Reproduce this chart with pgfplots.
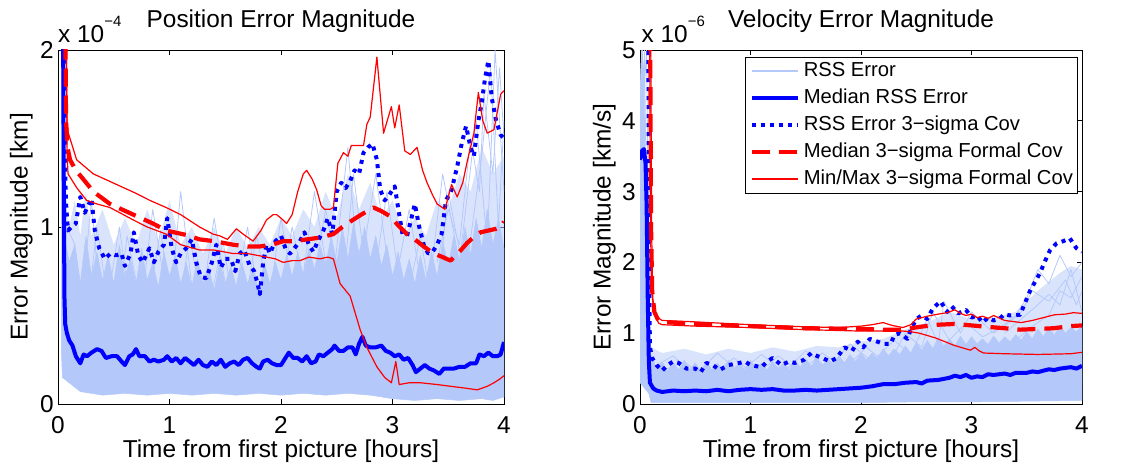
\documentclass[border=0pt]{standalone}
\usepackage{fontspec}
\setmainfont{Liberation Sans}
\usepackage{pgfplots}
\pgfplotsset{compat=1.18}
\definecolor{lb}{RGB}{180,200,250}
\definecolor{rd}{RGB}{255,0,0}
\newcommand{\fs}{\fontsize{24.5}{28}\selectfont}
\newcommand{\fl}{\fontsize{20.3}{24}\selectfont}
\pgfplotsset{
 myax/.style={scale only axis, height=354bp, xmin=0, xmax=4, ymin=0,
   xtick={0,1,2,3,4}, tick align=inside, major tick length=5bp,
   axis line style={line width=0.9bp}, every tick/.append style={black, line width=0.9bp},
   tick label style={font=\fs}, /pgf/number format/assume math mode=true,
   xticklabel style={anchor=base, yshift=-29bp, inner sep=0pt},
   yticklabel style={anchor=east, xshift=-4bp, inner sep=0pt},
   no markers, every axis plot/.append style={line join=round}},
 lite/.style={lb, line width=0.8bp},
 med/.style={blue, line width=4bp},
 dots/.style={blue, line width=4bp, dash pattern=on 4bp off 5bp},
 dsh/.style={red, line width=4.2bp, dash pattern=on 18bp off 9bp},
 mm/.style={red, line width=1.2bp},
 semi/.style={fill=lb, fill opacity=0.5, draw=none, forget plot},
}
\begin{document}
\begin{tikzpicture}
\useasboundingbox (-58bp,-68bp) rectangle (1076bp,404bp);
% ---------------- LEFT -----------------
\begin{axis}[myax, at={(0bp,0bp)}, anchor=south west, width=446bp, ymax=2, ytick={0,1,2}]
\addplot[semi] coordinates {(0.04,1.2)(0.1,1.0)(0.15,1.15)(0.2,0.95)(0.25,1.2)(0.3,0.95)(0.4,1.1)(0.5,0.9)(0.6,1.05)(0.7,0.9)(0.8,1.1)(0.9,0.92)(1.0,1.15)(1.1,0.9)(1.2,1.0)(1.3,0.85)(1.4,1.0)(1.5,0.85)(1.6,1.0)(1.7,0.88)(1.8,1.0)(1.9,0.9)(2.0,1.05)(2.1,0.95)(2.2,1.1)(2.3,1.0)(2.4,1.2)(2.5,1.05)(2.6,1.3)(2.7,1.1)(2.8,1.25)(2.9,1.05)(3.0,1.15)(3.1,0.95)(3.2,1.05)(3.3,0.95)(3.4,1.15)(3.5,1.1)(3.6,1.3)(3.7,1.2)(3.8,1.45)(3.9,1.3)(4.0,1.4)(4.0,0.3)(0.04,0.3)} -- cycle;
\addplot[fill=lb, draw=lb, line width=0.5bp, forget plot] coordinates {
(0.03,0.3)(0.035,2.1)(0.05,2.1)(0.055,1.2)(0.07,0.9)(0.10,0.8)(0.15,0.9)(0.20,0.68)(0.25,0.95)(0.30,0.72)(0.35,0.86)(0.40,0.7)(0.45,0.84)(0.50,0.68)(0.55,0.9)(0.60,0.72)(0.65,0.82)(0.70,0.68)(0.75,0.88)(0.80,0.7)(0.85,0.8)(0.90,0.66)(0.95,0.86)(1.00,0.72)(1.05,0.84)(1.10,0.68)(1.15,0.8)(1.20,0.66)(1.25,0.82)(1.30,0.68)(1.35,0.78)(1.40,0.64)(1.45,0.8)(1.50,0.68)(1.55,0.78)(1.60,0.66)(1.65,0.8)(1.70,0.68)(1.75,0.76)(1.80,0.64)(1.85,0.8)(1.90,0.68)(1.95,0.8)(2.00,0.7)(2.05,0.84)(2.10,0.72)(2.15,0.86)(2.20,0.73)(2.25,0.88)(2.30,0.76)(2.35,0.9)(2.40,0.78)(2.45,0.95)(2.50,0.8)(2.55,1.0)(2.60,0.82)(2.65,1.02)(2.70,0.85)(2.75,1.0)(2.80,0.82)(2.85,0.95)(2.90,0.78)(2.95,0.9)(3.00,0.72)(3.05,0.86)(3.10,0.7)(3.15,0.82)(3.20,0.68)(3.25,0.84)(3.30,0.7)(3.35,0.86)(3.40,0.72)(3.45,0.92)(3.50,0.78)(3.55,0.95)(3.60,0.8)(3.65,1.0)(3.70,0.84)(3.75,1.05)(3.80,0.88)(3.85,1.1)(3.90,0.9)(3.95,1.05)(4.00,0.88)
(4.0,0.04)(3.9,0.02)(3.8,0.03)(3.6,0.02)(3.4,0.03)(3.2,0.02)(3.0,0.03)(2.8,0.05)(2.6,0.06)(2.4,0.05)(2.2,0.06)(2.0,0.05)(1.8,0.06)(1.6,0.05)(1.4,0.06)(1.2,0.05)(1.0,0.06)(0.8,0.05)(0.6,0.06)(0.4,0.05)(0.2,0.07)(0.04,0.15)
} -- cycle;
\addplot[lite] coordinates {(0.03,2.0)(0.06,0.9)(0.2,0.5)(0.3,1.15)(0.4,0.4)(0.55,1.0)(0.7,0.3)(0.85,1.1)(1.0,0.5)(1.1,1.2)(1.25,0.4)(1.4,1.05)(1.55,0.5)(1.7,1.0)(1.85,0.4)(2.0,1.05)(2.15,0.5)(2.3,1.2)(2.45,0.6)(2.6,1.45)(2.7,0.7)(2.85,1.3)(3.0,0.6)(3.15,1.1)(3.3,0.5)(3.45,1.3)(3.6,0.8)(3.75,1.6)(3.85,0.9)(3.92,2.0)(4.0,1.2)};
\addplot[lite] coordinates {(0.04,1.8)(0.08,1.0)(0.15,0.9)(0.25,0.45)(0.35,1.0)(0.5,0.35)(0.62,0.95)(0.78,0.45)(0.92,0.98)(1.05,0.4)(1.18,0.95)(1.32,0.45)(1.48,0.92)(1.62,0.35)(1.78,0.95)(1.95,0.45)(2.1,1.0)(2.25,0.55)(2.4,1.1)(2.55,0.6)(2.65,1.3)(2.8,0.55)(2.95,1.2)(3.1,0.5)(3.25,0.95)(3.38,0.45)(3.5,1.2)(3.65,0.7)(3.8,1.4)(3.88,1.9)(3.95,1.0)(4.0,1.6)};
\addplot[lite] coordinates {(3.4,0.8)(3.5,1.1)(3.6,0.9)(3.7,1.5)(3.78,1.2)(3.82,1.75)(3.9,1.3)(3.96,1.9)(4.0,1.5)};
\addplot[med] coordinates {(0.045,2.2)(0.052,1.2)(0.058,0.6)(0.065,0.45)(0.08,0.4)(0.1,0.36)(0.13,0.33)(0.16,0.27)(0.2,0.23)(0.23,0.28)(0.26,0.27)(0.3,0.29)(0.35,0.31)(0.39,0.30)(0.43,0.26)(0.48,0.27)(0.53,0.27)(0.57,0.24)(0.6,0.22)(0.64,0.27)(0.67,0.28)(0.7,0.31)(0.73,0.27)(0.78,0.27)(0.82,0.24)(0.86,0.25)(0.9,0.24)(0.95,0.25)(0.98,0.27)(1.02,0.24)(1.06,0.26)(1.1,0.23)(1.14,0.26)(1.18,0.24)(1.22,0.22)(1.26,0.25)(1.3,0.22)(1.34,0.21)(1.38,0.24)(1.42,0.22)(1.46,0.25)(1.5,0.21)(1.54,0.23)(1.58,0.24)(1.62,0.22)(1.66,0.25)(1.7,0.26)(1.74,0.23)(1.78,0.21)(1.81,0.2)(1.84,0.24)(1.88,0.25)(1.92,0.23)(1.96,0.22)(2.0,0.22)(2.04,0.26)(2.07,0.29)(2.11,0.26)(2.15,0.26)(2.19,0.24)(2.23,0.27)(2.27,0.23)(2.31,0.24)(2.34,0.28)(2.38,0.27)(2.42,0.29)(2.46,0.31)(2.48,0.33)(2.52,0.3)(2.56,0.3)(2.6,0.32)(2.64,0.32)(2.67,0.28)(2.7,0.34)(2.73,0.38)(2.76,0.33)(2.8,0.32)(2.85,0.32)(2.9,0.33)(2.94,0.3)(2.98,0.29)(3.02,0.27)(3.06,0.28)(3.1,0.25)(3.14,0.26)(3.18,0.22)(3.21,0.18)(3.25,0.2)(3.29,0.22)(3.33,0.2)(3.37,0.19)(3.42,0.17)(3.46,0.2)(3.5,0.2)(3.55,0.2)(3.6,0.21)(3.65,0.21)(3.7,0.23)(3.75,0.23)(3.78,0.28)(3.82,0.27)(3.86,0.29)(3.9,0.27)(3.94,0.27)(3.97,0.28)(4.0,0.35)};
\addplot[dots] coordinates {(0.062,2.2)(0.066,1.25)(0.075,1.1)(0.09,0.98)(0.12,1.0)(0.16,1.02)(0.2,1.17)(0.24,1.08)(0.3,1.16)(0.33,0.98)(0.37,0.88)(0.42,0.82)(0.47,0.85)(0.52,0.84)(0.57,0.85)(0.6,0.78)(0.65,0.85)(0.68,0.97)(0.72,0.84)(0.76,0.8)(0.82,0.88)(0.86,0.8)(0.9,0.86)(0.95,0.9)(0.98,1.05)(1.02,0.88)(1.06,0.8)(1.1,0.85)(1.15,0.88)(1.2,0.93)(1.24,0.8)(1.28,0.72)(1.33,0.71)(1.38,0.8)(1.42,0.9)(1.46,0.77)(1.5,0.82)(1.55,0.82)(1.59,0.75)(1.63,0.85)(1.67,0.87)(1.72,0.78)(1.76,0.75)(1.79,0.68)(1.81,0.62)(1.84,0.8)(1.87,0.9)(1.9,0.85)(1.95,0.92)(2.0,0.95)(2.04,0.88)(2.08,0.85)(2.12,0.88)(2.17,0.92)(2.21,0.97)(2.25,0.9)(2.29,0.86)(2.33,0.92)(2.38,0.98)(2.42,1.05)(2.46,0.96)(2.5,1.2)(2.54,1.25)(2.58,1.22)(2.62,1.26)(2.66,1.32)(2.7,1.3)(2.74,1.42)(2.78,1.45)(2.82,1.47)(2.86,1.38)(2.89,1.21)(2.93,1.15)(2.97,1.18)(3.02,1.23)(3.05,1.11)(3.09,0.96)(3.13,0.95)(3.17,1.05)(3.2,1.13)(3.24,1.0)(3.28,0.9)(3.32,0.85)(3.36,0.86)(3.4,0.9)(3.44,0.96)(3.48,1.15)(3.53,1.21)(3.58,1.34)(3.62,1.47)(3.66,1.57)(3.7,1.45)(3.73,1.4)(3.77,1.6)(3.8,1.7)(3.83,1.84)(3.86,1.94)(3.89,1.73)(3.93,1.6)(3.97,1.52)(4.0,1.5)};
\addplot[dsh] coordinates {(0.065,2.2)(0.072,1.6)(0.085,1.45)(0.108,1.38)(0.16,1.32)(0.227,1.27)(0.317,1.2)(0.466,1.13)(0.675,1.07)(0.85,1.02)(0.97,0.98)(1.15,0.955)(1.27,0.93)(1.4,0.92)(1.57,0.9)(1.7,0.89)(1.81,0.89)(1.92,0.9)(2.02,0.92)(2.12,0.92)(2.23,0.93)(2.35,0.94)(2.47,0.96)(2.55,1.0)(2.62,1.03)(2.72,1.07)(2.83,1.11)(2.9,1.09)(2.98,1.06)(3.05,1.01)(3.13,0.96)(3.2,0.93)(3.28,0.89)(3.37,0.85)(3.45,0.83)(3.52,0.81)(3.6,0.86)(3.67,0.91)(3.74,0.95)(3.79,0.97)(3.86,0.98)(3.93,0.99)(3.97,1.0)(4.0,1.03)};
\addplot[mm] coordinates {(0.07,2.2)(0.08,1.6)(0.093,1.53)(0.167,1.38)(0.317,1.3)(0.526,1.24)(0.7,1.19)(0.825,1.15)(0.97,1.11)(1.1,1.07)(1.27,1.0)(1.39,0.96)(1.45,0.95)(1.52,0.93)(1.6,0.99)(1.66,0.96)(1.75,0.92)(1.82,0.98)(1.87,1.04)(1.93,1.07)(1.96,1.07)(2.0,1.05)(2.05,1.02)(2.1,1.07)(2.15,1.2)(2.2,1.3)(2.23,1.32)(2.28,1.27)(2.32,1.21)(2.36,1.12)(2.39,1.1)(2.44,1.1)(2.47,1.11)(2.51,1.36)(2.56,1.42)(2.6,1.4)(2.63,1.46)(2.68,1.46)(2.74,1.46)(2.77,1.58)(2.8,1.62)(2.86,1.96)(2.92,1.53)(2.99,1.68)(3.02,1.56)(3.06,1.69)(3.11,1.43)(3.16,1.41)(3.22,1.45)(3.27,1.32)(3.31,1.25)(3.36,1.18)(3.4,1.13)(3.47,1.1)(3.53,1.24)(3.58,1.17)(3.63,1.25)(3.67,1.37)(3.73,1.53)(3.77,1.76)(3.81,1.6)(3.85,1.53)(3.91,1.55)(3.97,1.75)(4.0,1.77)};
\addplot[mm] coordinates {(0.075,2.2)(0.082,1.4)(0.09,1.3)(0.17,1.22)(0.257,1.15)(0.35,1.13)(0.466,1.11)(0.675,1.04)(0.8,1.0)(0.97,0.96)(1.1,0.9)(1.27,0.87)(1.4,0.87)(1.57,0.85)(1.7,0.85)(1.87,0.83)(1.95,0.82)(2.02,0.8)(2.1,0.81)(2.17,0.81)(2.25,0.83)(2.35,0.82)(2.42,0.83)(2.47,0.82)(2.53,0.68)(2.62,0.61)(2.71,0.42)(2.77,0.32)(2.86,0.21)(2.93,0.15)(2.99,0.12)(3.03,0.24)(3.06,0.11)(3.15,0.12)(3.25,0.12)(3.4,0.11)(3.52,0.1)(3.65,0.09)(3.76,0.08)(3.85,0.1)(3.91,0.12)(3.96,0.14)(4.0,0.16)};
\end{axis}
\node[font=\fs, anchor=base] at (223bp,376bp) {Position Error Magnitude};
\node[font=\fs, anchor=base] at (223bp,-53bp) {Time from first picture [hours]};
\node[font=\fs, anchor=base, rotate=90] at (-30.5bp,177bp) {Error Magnitude [km]};
\node[font=\fs, anchor=base west, inner sep=0pt] at (0bp,361bp) {x 10\raisebox{16bp}{\fontsize{15}{15}\selectfont −4}};
% ---------------- RIGHT -----------------
\begin{axis}[myax, at={(582bp,0bp)}, anchor=south west, width=442bp, ymax=5, ytick={0,1,2,3,4,5},
  legend cell align=left,
  legend image code/.code={\draw[#1] (0bp,0bp) -- (46bp,0bp);},
  legend style={at={(0.989,0.98)}, anchor=north east, font=\fl, draw=black, fill=white,
    inner xsep=4bp, inner ysep=4bp, column sep=4bp, row sep=7.5bp,
    nodes={inner sep=0pt, text height=15bp, text depth=4.5bp}}]
\addplot[semi] coordinates {(0.08,1.0)(0.1,0.8)(0.2,0.72)(0.4,0.78)(0.6,0.7)(0.8,0.78)(1.0,0.72)(1.2,0.8)(1.4,0.74)(1.6,0.82)(1.8,0.8)(2.0,0.88)(2.2,0.92)(2.4,1.05)(2.6,1.15)(2.8,1.3)(3.0,1.2)(3.2,1.22)(3.4,1.3)(3.6,1.6)(3.8,1.85)(3.9,1.95)(4.0,1.9)(4.0,0.3)(0.08,0.3)} -- cycle;
\addplot[fill=lb, draw=lb, line width=0.5bp, forget plot] coordinates {
(0.0,4.5)(0.02,5.2)(0.04,4.2)(0.06,2.2)(0.08,1.0)(0.1,0.7)(0.15,0.5)(0.2,0.6)(0.25,0.46)(0.3,0.58)(0.35,0.48)(0.4,0.62)(0.45,0.48)(0.5,0.58)(0.55,0.46)(0.6,0.6)(0.65,0.48)(0.7,0.58)(0.75,0.48)(0.8,0.62)(0.85,0.5)(0.9,0.58)(0.95,0.48)(1.0,0.62)(1.05,0.5)(1.1,0.58)(1.15,0.48)(1.2,0.6)(1.25,0.5)(1.3,0.58)(1.35,0.48)(1.4,0.62)(1.45,0.52)(1.5,0.64)(1.55,0.53)(1.6,0.66)(1.65,0.54)(1.7,0.64)(1.75,0.56)(1.8,0.68)(1.85,0.58)(1.9,0.7)(1.95,0.6)(2.0,0.72)(2.05,0.62)(2.1,0.72)(2.15,0.64)(2.2,0.78)(2.25,0.68)(2.3,0.78)(2.35,0.7)(2.4,0.82)(2.45,0.72)(2.5,0.86)(2.55,0.76)(2.6,0.9)(2.65,0.78)(2.7,0.94)(2.75,0.82)(2.8,0.92)(2.85,0.82)(2.9,0.96)(2.95,0.84)(3.0,0.95)(3.05,0.85)(3.1,0.92)(3.15,0.84)(3.2,0.96)(3.25,0.86)(3.3,0.95)(3.35,0.88)(3.4,0.98)(3.45,0.9)(3.5,1.02)(3.55,0.92)(3.6,1.06)(3.65,0.95)(3.7,1.08)(3.75,0.97)(3.8,1.1)(3.85,1.0)(3.9,1.08)(3.95,1.02)(4.0,1.1)
(4.0,0.05)(3.5,0.04)(3.0,0.03)(2.5,0.03)(2.0,0.02)(1.5,0.02)(1.0,0.02)(0.5,0.02)(0.1,0.02)(0.08,0.15)(0.0,0.3)
} -- cycle;
\addplot[lite, forget plot] coordinates {(0.1,0.5)(0.3,0.68)(0.5,0.4)(0.7,0.72)(0.9,0.45)(1.1,0.7)(1.3,0.45)(1.5,0.75)(1.7,0.5)(1.9,0.85)(2.1,0.6)(2.3,0.9)(2.45,0.7)(2.6,1.2)(2.7,0.85)(2.75,1.45)(2.9,1.0)(3.0,1.3)(3.2,1.0)(3.4,1.25)(3.5,1.5)(3.6,1.9)(3.7,1.7)(3.8,2.1)(3.9,1.8)(4.0,2.0)};
\addplot[lite, forget plot] coordinates {(0.1,0.4)(0.4,0.6)(0.6,0.35)(0.85,0.65)(1.05,0.4)(1.25,0.68)(1.45,0.45)(1.65,0.72)(1.85,0.5)(2.05,0.8)(2.25,0.55)(2.4,1.0)(2.55,0.8)(2.65,1.3)(2.8,0.9)(2.95,1.15)(3.1,0.95)(3.3,1.1)(3.45,1.3)(3.55,1.6)(3.7,1.45)(3.85,1.75)(3.95,1.4)(4.0,1.6)};
\addplot[lite, forget plot] coordinates {(3.3,1.0)(3.45,1.2)(3.6,1.4)(3.7,1.55)(3.8,1.4)(3.9,1.9)(4.0,1.3)};
\addplot[lite, forget plot] coordinates {(3.4,0.9)(3.55,1.1)(3.7,1.25)(3.8,1.6)(3.9,1.5)(4.0,1.8)};
\addplot[lite, forget plot] coordinates {(0,1.3)(0.04,5)(0.08,0.4)};
\addplot[lite, forget plot] coordinates {(0,2.0)(0.03,4.8)(0.07,0.5)};
\addplot[lite, forget plot] coordinates {(0,3.5)(0.06,5)(0.09,0.4)};
\addplot[med, forget plot] coordinates {(0,3.45)(0.02,3.58)(0.035,3.6)(0.05,3.4)(0.06,2.8)(0.07,1.5)(0.08,0.6)(0.09,0.3)(0.12,0.22)(0.15,0.19)(0.2,0.17)(0.3,0.19)(0.4,0.18)(0.5,0.19)(0.6,0.18)(0.7,0.2)(0.8,0.18)(0.9,0.2)(1.0,0.21)(1.1,0.2)(1.2,0.21)(1.3,0.19)(1.4,0.19)(1.5,0.2)(1.6,0.19)(1.7,0.2)(1.8,0.21)(1.9,0.22)(2.0,0.23)(2.1,0.25)(2.2,0.28)(2.3,0.28)(2.4,0.3)(2.5,0.31)(2.55,0.29)(2.6,0.33)(2.7,0.34)(2.8,0.37)(2.85,0.4)(2.9,0.38)(2.95,0.41)(3.0,0.37)(3.05,0.39)(3.1,0.38)(3.15,0.42)(3.2,0.41)(3.3,0.43)(3.35,0.41)(3.4,0.44)(3.5,0.44)(3.55,0.46)(3.6,0.45)(3.7,0.49)(3.75,0.48)(3.8,0.5)(3.9,0.52)(3.95,0.5)(4.0,0.54)};
\addplot[dots, forget plot] coordinates {(0.075,6)(0.08,2.0)(0.09,0.8)(0.11,0.65)(0.15,0.55)(0.2,0.47)(0.25,0.55)(0.3,0.6)(0.35,0.58)(0.42,0.5)(0.5,0.5)(0.55,0.45)(0.6,0.58)(0.66,0.55)(0.72,0.48)(0.8,0.55)(0.9,0.58)(0.95,0.6)(1.0,0.55)(1.1,0.52)(1.15,0.6)(1.2,0.65)(1.28,0.55)(1.35,0.6)(1.4,0.58)(1.48,0.62)(1.55,0.72)(1.6,0.68)(1.65,0.65)(1.72,0.6)(1.78,0.65)(1.85,0.8)(1.92,0.75)(1.97,0.88)(2.02,0.8)(2.08,0.92)(2.15,0.88)(2.2,0.85)(2.27,0.85)(2.3,0.97)(2.35,1.0)(2.42,0.92)(2.45,1.05)(2.5,1.2)(2.55,1.25)(2.6,1.2)(2.65,1.35)(2.72,1.45)(2.78,1.3)(2.82,1.38)(2.88,1.28)(2.95,1.33)(3.0,1.22)(3.05,1.25)(3.1,1.15)(3.15,1.22)(3.2,1.18)(3.25,1.2)(3.3,1.27)(3.35,1.25)(3.44,1.26)(3.53,1.6)(3.62,1.85)(3.66,2.0)(3.71,2.17)(3.77,2.27)(3.83,2.3)(3.89,2.34)(3.95,2.2)(4.0,2.15)};
\addplot[dsh, forget plot] coordinates {(0.09,6)(0.1,2.5)(0.11,1.6)(0.13,1.3)(0.16,1.2)(0.2,1.16)(0.5,1.13)(1.0,1.1)(1.5,1.07)(2.0,1.06)(2.2,1.05)(2.38,1.05)(2.53,1.09)(2.7,1.12)(2.84,1.13)(3.0,1.11)(3.14,1.09)(3.3,1.07)(3.44,1.05)(3.6,1.06)(3.74,1.07)(3.9,1.1)(4.0,1.11)};
\addplot[mm, forget plot] coordinates {(0.085,6)(0.095,2.5)(0.105,1.6)(0.125,1.32)(0.16,1.22)(0.2,1.18)(0.5,1.16)(1.0,1.12)(1.5,1.09)(1.8,1.08)(2.0,1.1)(2.1,1.12)(2.2,1.15)(2.28,1.11)(2.38,1.08)(2.45,1.12)(2.5,1.2)(2.6,1.24)(2.7,1.27)(2.78,1.29)(2.85,1.33)(2.9,1.28)(2.95,1.25)(3.0,1.27)(3.05,1.22)(3.1,1.24)(3.15,1.21)(3.2,1.25)(3.3,1.18)(3.4,1.16)(3.45,1.15)(3.55,1.18)(3.65,1.22)(3.75,1.26)(3.85,1.27)(3.92,1.29)(4.0,1.28)};
\addplot[mm, forget plot] coordinates {(0.095,6)(0.105,2.5)(0.115,1.5)(0.135,1.25)(0.17,1.14)(0.2,1.12)(0.5,1.1)(1.0,1.08)(1.5,1.05)(2.0,1.03)(2.38,1.03)(2.45,1.02)(2.53,1.0)(2.68,0.93)(2.84,0.83)(2.99,0.76)(3.03,0.8)(3.07,0.75)(3.11,0.72)(3.3,0.71)(3.6,0.7)(3.9,0.71)(4.0,0.73)};
\addlegendimage{draw=lb, line width=1.4bp}
\addlegendentry{RSS Error}
\addlegendimage{draw=blue, line width=4bp}
\addlegendentry{Median RSS Error}
\addlegendimage{draw=blue, line width=4bp, dash pattern=on 4bp off 5bp}
\addlegendentry{RSS Error 3−sigma Cov}
\addlegendimage{draw=red, line width=4.2bp, dash pattern=on 18bp off 9bp}
\addlegendentry{Median 3−sigma Formal Cov}
\addlegendimage{draw=rd, line width=1.4bp}
\addlegendentry{Min/Max 3−sigma Formal Cov}
\end{axis}
\node[font=\fs, anchor=base] at (803bp,376bp) {Velocity Error Magnitude};
\node[font=\fs, anchor=base] at (803bp,-53bp) {Time from first picture [hours]};
\node[font=\fs, anchor=base, rotate=90] at (552.5bp,177bp) {Error Magnitude [km/s]};
\node[font=\fs, anchor=base west, inner sep=0pt] at (583.5bp,361bp) {x 10\raisebox{16bp}{\fontsize{15}{15}\selectfont −6}};
\end{tikzpicture}
\end{document}
